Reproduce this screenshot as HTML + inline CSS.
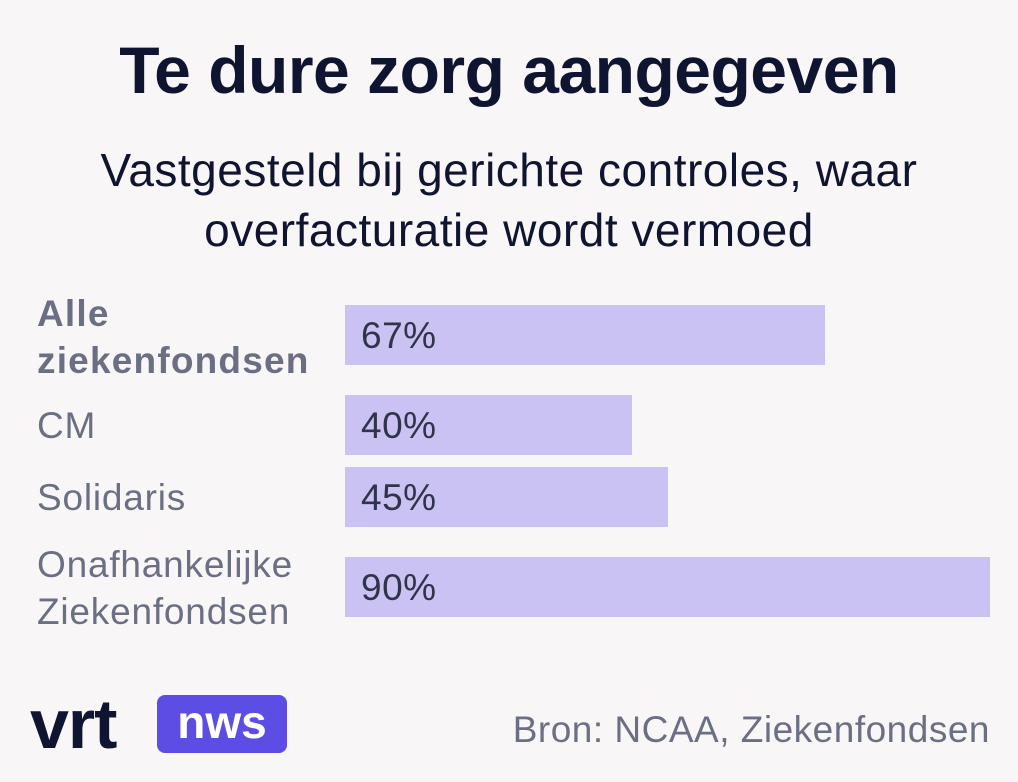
<!DOCTYPE html>
<html><head><meta charset="utf-8"><style>
body{margin:0;width:1018px;height:782px;background:#f8f6f6;font-family:"Liberation Sans",sans-serif;position:relative;overflow:hidden}
.a{position:absolute}
h1{position:absolute;left:0;width:1018px;top:32px;margin:0;text-align:center;font-size:66px;font-weight:bold;color:#0f1431;letter-spacing:-0.5px}
.sub{left:0;width:1018px;top:140px;text-align:center;font-size:46px;line-height:60px;color:#0f1431;letter-spacing:0.5px}
.lab{left:37px;font-size:37px;color:#6b6f84;line-height:47px;letter-spacing:0.8px}
.bar{left:345px;background:#c9c2f2;height:60px}
.bar span{position:absolute;left:16px;top:10px;font-size:37px;color:#30344a;letter-spacing:0.5px}
</style></head><body>
<h1>Te dure zorg aangegeven</h1>
<div class="a sub">Vastgesteld bij gerichte controles, waar<br>overfacturatie wordt vermoed</div>
<div class="a lab" style="top:290px;font-weight:bold;letter-spacing:1.2px">Alle<br>ziekenfondsen</div>
<div class="a bar" style="top:305px;width:480px"><span>67%</span></div>
<div class="a lab" style="top:402px">CM</div>
<div class="a bar" style="top:395px;width:287px"><span>40%</span></div>
<div class="a lab" style="top:474px">Solidaris</div>
<div class="a bar" style="top:467px;width:323px"><span>45%</span></div>
<div class="a lab" style="top:541px">Onafhankelijke<br>Ziekenfondsen</div>
<div class="a bar" style="top:557px;width:645px"><span>90%</span></div>
<div class="a" style="left:30px;top:686px;font-size:70px;font-weight:bold;color:#0f1431;letter-spacing:-1px;line-height:76px">vrt</div>
<div class="a" style="left:157px;top:695px;width:130px;height:58px;background:#5c4ee5;border-radius:8px;color:#fff;font-size:46px;font-weight:bold;text-align:center;line-height:54px">nws</div>
<div class="a" style="right:28px;top:709px;font-size:37px;color:#6b6f84;letter-spacing:0.5px">Bron: NCAA, Ziekenfondsen</div>
</body></html>
